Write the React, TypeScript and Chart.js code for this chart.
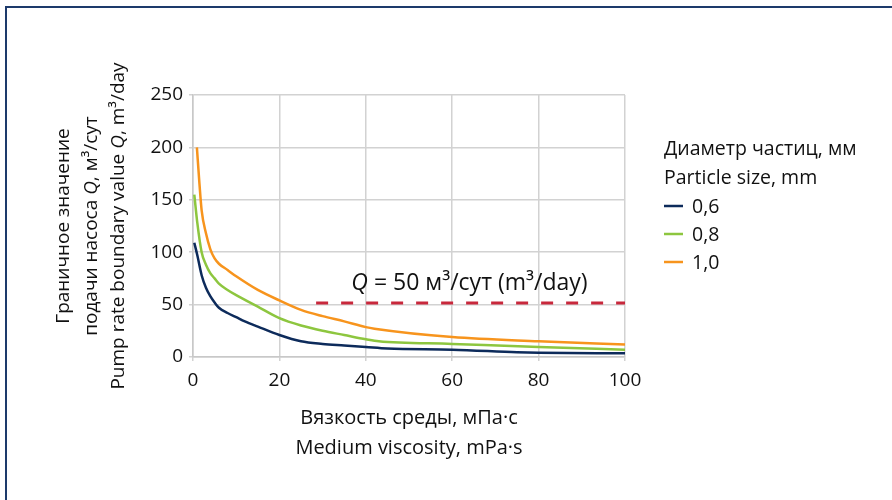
import React, { useEffect, useRef } from "react";
import { Chart, registerables } from "chart.js";
Chart.register(...registerables);

// ---- data ----
const seriesLabels = ["0,6", "0,8", "1,0"];
const seriesColors = ["#0d2b5b", "#8dc63f", "#f7941d"];

const x06 = [0.3, 1, 2, 3, 4, 5, 6, 8, 10, 12, 15, 20, 25, 30, 35, 40, 45, 60, 75, 80, 100];
const q06 = [109, 97, 78, 66, 58, 52, 47, 42, 38, 34, 29, 21, 15, 12.5, 11, 9.5, 8, 7, 4.5, 4, 3.5];

const x08 = [0.3, 1, 2, 3, 4, 5, 6, 8, 10, 15, 20, 25, 30, 35, 40, 43, 60, 80, 100];
const q08 = [155, 128, 100, 88, 80, 75, 70, 64, 59, 48, 37, 30, 25, 21, 17, 15, 12.5, 9.5, 7];

const x10 = [0.9, 1.5, 2, 3, 4, 5, 6, 8, 10, 15, 20, 25, 30, 35, 40, 42, 60, 80, 100];
const q10 = [200, 165, 140, 118, 103, 94, 89, 83, 77, 64, 54, 45, 39, 34, 28.5, 27, 19, 15, 12];

const limitX = [28.5, 100];
const limitQ = [51.5, 51.5];

const xTicks = [0, 20, 40, 60, 80, 100];
const yTicks = [0, 50, 100, 150, 200, 250];

const legendTitle = ["Диаметр частиц, мм", "Particle size, mm"];
const xTitle = ["Вязкость среды, мПа·с", "Medium viscosity, mPa·s"];

const FONT = "'Open Sans', sans-serif";
const FS = 19;

type Seg = { t: string; i?: boolean };

function drawRich(ctx: CanvasRenderingContext2D, segs: Seg[], cx: number, y: number, align: "center" | "left", size: number = FS) {
  let total = 0;
  const widths = segs.map((s) => {
    ctx.font = `${s.i ? "italic " : ""}${size}px ${FONT}`;
    const w = ctx.measureText(s.t).width;
    total += w;
    return w;
  });
  let x = align === "center" ? cx - total / 2 : cx;
  ctx.textAlign = "left";
  segs.forEach((s, k) => {
    ctx.font = `${s.i ? "italic " : ""}${size}px ${FONT}`;
    ctx.fillText(s.t, x, y);
    x += widths[k];
  });
}

const textPlugin = {
  id: "texts",
  afterDraw(chart: any) {
    const ctx: CanvasRenderingContext2D = chart.ctx;
    const ca = chart.chartArea;
    const xs = chart.scales.x;
    const ys = chart.scales.y;
    ctx.save();
    // frame
    ctx.fillStyle = "#1d3a6b";
    ctx.fillRect(5, 6, 2, 500);
    ctx.fillRect(5, 6, 900, 2);

    ctx.fillStyle = "#111";
    ctx.textBaseline = "alphabetic";

    // annotation
    drawRich(ctx, [{ t: "Q", i: true }, { t: " = 50 м³/сут (m³/day)" }], xs.getPixelForValue(64), ys.getPixelForValue(64), "center", 23);

    // x title
    const cx = (ca.left + ca.right) / 2;
    drawRich(ctx, [{ t: xTitle[0] }], cx, 424, "center", 20);
    drawRich(ctx, [{ t: xTitle[1] }], cx, 454, "center", 20);

    // y title (rotated)
    ctx.save();
    const cy = (ca.top + ca.bottom) / 2;
    ctx.translate(0, cy);
    ctx.rotate(-Math.PI / 2);
    ctx.fillStyle = "#111";
    drawRich(ctx, [{ t: "Граничное значение" }], 0, 69, "center");
    drawRich(ctx, [{ t: "подачи насоса " }, { t: "Q", i: true }, { t: ", м³/сут" }], 0, 97, "center");
    drawRich(ctx, [{ t: "Pump rate boundary value " }, { t: "Q", i: true }, { t: ", m³/day" }], 0, 124, "center");
    ctx.restore();

    // legend
    const lx = 664;
    drawRich(ctx, [{ t: legendTitle[0] }], lx, 155, "left", 19.5);
    drawRich(ctx, [{ t: legendTitle[1] }], lx, 184, "left", 19.5);
    seriesLabels.forEach((lab, k) => {
      const by = 213 + k * 28;
      ctx.strokeStyle = seriesColors[k];
      ctx.lineWidth = 2.5;
      ctx.beginPath();
      ctx.moveTo(lx, by - 7);
      ctx.lineTo(lx + 19, by - 7);
      ctx.stroke();
      ctx.fillStyle = "#111";
      drawRich(ctx, [{ t: lab }], lx + 28, by, "left", 19.5);
    });
    ctx.restore();
  },
};

const pts = (xs: number[], ys: number[]) => xs.map((x, i) => ({ x, y: ys[i] }));

export default function App() {
  const ref = useRef<HTMLCanvasElement>(null);
  useEffect(() => {
    const lineDs = (k: number, xs: number[], ys: number[]) => ({
      label: seriesLabels[k],
      data: pts(xs, ys),
      borderColor: seriesColors[k],
      backgroundColor: seriesColors[k],
      borderWidth: 2.5,
      pointRadius: 0,
      cubicInterpolationMode: "monotone" as const,
      fill: false,
    });
    const chart = new Chart(ref.current!, {
      type: "line",
      data: {
        datasets: [
          {
            label: "limit",
            data: pts(limitX, limitQ),
            borderColor: "#c8283c",
            borderWidth: 3,
            borderDash: [12, 13],
            pointRadius: 0,
            fill: false,
          },
          lineDs(0, x06, q06),
          lineDs(1, x08, q08),
          lineDs(2, x10, q10),
        ],
      },
      options: {
        animation: false,
        responsive: false,
        devicePixelRatio: 1,
        layout: { padding: { left: 0, right: 267, top: 95, bottom: 0 } },
        plugins: { legend: { display: false }, tooltip: { enabled: false }, title: { display: false } },
        scales: {
          x: {
            type: "linear",
            min: 0,
            max: 100,
            afterFit: (s: any) => {
              s.height = 143;
            },
            afterBuildTicks: (s: any) => {
              s.ticks = xTicks.map((v) => ({ value: v }));
            },
            grid: { color: "#d2d2d2", lineWidth: 1.5, tickLength: 4 },
            border: { color: "#c8c8c8", width: 1.5 },
            ticks: { color: "#111", font: { family: FONT, size: FS }, padding: 8, maxRotation: 0 },
          },
          y: {
            type: "linear",
            min: 0,
            max: 250,
            afterFit: (s: any) => {
              s.width = 193;
            },
            afterBuildTicks: (s: any) => {
              s.ticks = yTicks.map((v) => ({ value: v }));
            },
            grid: { color: "#d2d2d2", lineWidth: 1.5, tickLength: 4 },
            border: { color: "#c8c8c8", width: 1.5 },
            ticks: { color: "#111", font: { family: FONT, size: FS }, padding: 6 },
          },
        },
      },
      plugins: [textPlugin],
    });
    return () => chart.destroy();
  }, []);
  return (
    <div style={{ position: "fixed", left: 0, top: 0, width: 892, height: 500, background: "#fff" }}>
      <canvas ref={ref} width={892} height={500} style={{ width: 892, height: 500, display: "block" }} />
    </div>
  );
}
